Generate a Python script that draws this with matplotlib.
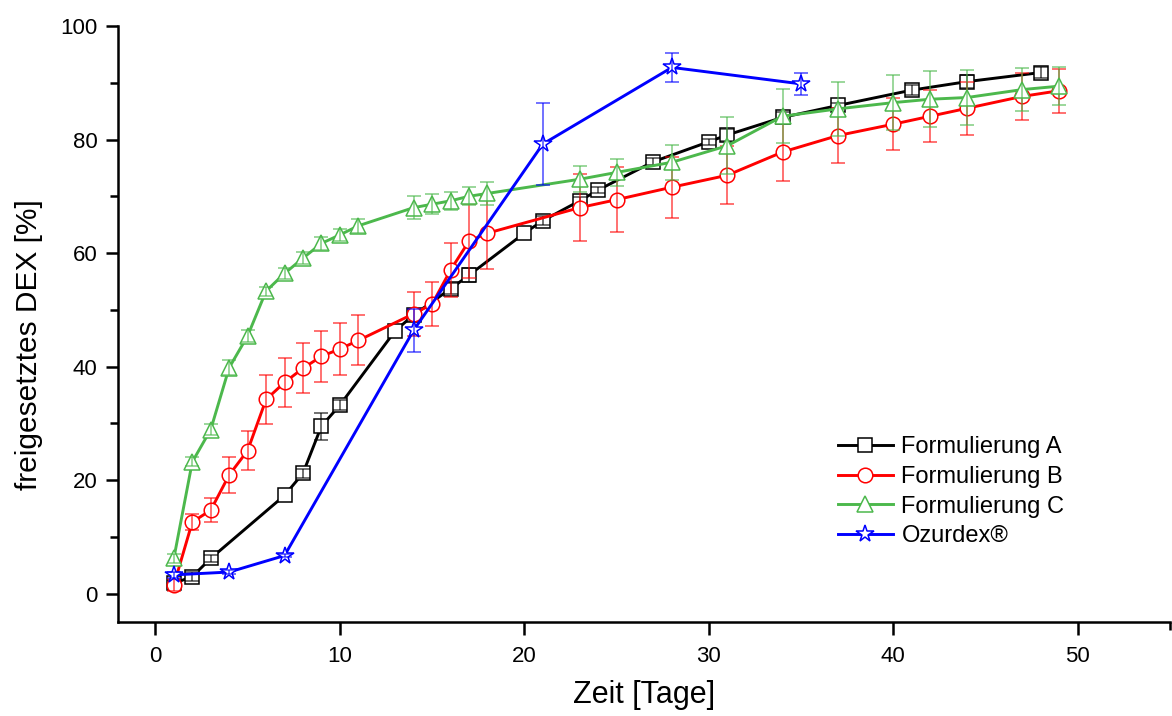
import matplotlib.pyplot as plt
from matplotlib.ticker import FixedLocator
import numpy as np

plt.rcParams['font.family'] = ['Liberation Sans', 'DejaVu Sans']

# release data, days and percent released (mean +- sd)
tage_a = [1, 2, 3, 7, 8, 9, 10, 13, 14, 16, 17, 20, 21, 23, 24, 27, 30, 31, 34, 37, 41, 44, 48]
dex_a = [1.8, 3.0, 6.2, 17.3, 21.2, 29.5, 33.2, 46.3, 49.1, 53.7, 56.1, 63.5, 65.7, 69.2,
         71.1, 76.1, 79.6, 80.8, 83.9, 86.0, 88.7, 90.2, 91.8]
err_a = [0.6, 0.8, 0.6, 0.0, 0.8, 2.4, 0.9, 0.0, 1.0, 1.0, 1.2, 0.0, 0.8, 0.7,
         0.6, 0.6, 0.5, 1.0, 0.9, 0.4, 0.9, 1.2, 0.9]

tage_bc = [1, 2, 3, 4, 5, 6, 7, 8, 9, 10, 11, 14, 15, 16, 17, 18, 23, 25, 28, 31, 34, 37, 40, 42, 44, 47, 49]
dex_b = [1.5, 12.6, 14.7, 20.9, 25.2, 34.2, 37.2, 39.7, 41.8, 43.1, 44.6, 49.3, 51.0, 57.0,
         62.1, 63.5, 68.0, 69.4, 71.6, 73.7, 77.8, 80.7, 82.7, 84.1, 85.5, 87.6, 88.6]
err_b = [1.0, 1.4, 2.1, 3.2, 3.5, 4.3, 4.3, 4.4, 4.5, 4.5, 4.4, 3.9, 3.9, 4.7,
         6.5, 6.4, 5.9, 5.7, 5.4, 5.1, 5.1, 4.9, 4.6, 4.6, 4.7, 4.2, 3.9]

dex_c = [6.2, 23.2, 28.9, 39.8, 45.4, 53.3, 56.4, 59.1, 61.7, 63.2, 64.8, 68.0, 68.6, 69.2,
         70.0, 70.5, 73.0, 74.2, 76.0, 78.9, 84.1, 85.4, 86.5, 87.1, 87.4, 88.8, 89.4]
err_c = [0.8, 0.8, 1.0, 1.3, 1.0, 0.8, 0.9, 1.0, 1.2, 1.1, 1.2, 2.0, 1.8, 1.6,
         1.6, 2.0, 2.3, 2.4, 3.1, 5.0, 4.8, 4.7, 4.8, 4.9, 4.8, 3.8, 3.3]

tage_oz = [1, 4, 7, 14, 21, 28, 35]
dex_oz = [3.3, 3.8, 6.7, 46.4, 79.2, 92.7, 89.8]
err_oz = [0.5, 0.3, 0.3, 3.8, 7.2, 2.5, 2.0]

fig = plt.figure(figsize=(11.72, 7.16), dpi=100)
ax = fig.add_axes([0.1011, 0.1313, 0.8972, 0.8324])

series = [
    ('Formulierung A', tage_a, dex_a, err_a, 'black', 's', 9.5),
    ('Formulierung B', tage_bc, dex_b, err_b, '#ff0000', 'o', 10.5),
    ('Formulierung C', tage_bc, dex_c, err_c, '#4cb84c', '^', 11),
    ('Ozurdex®', tage_oz, dex_oz, err_oz, '#0000ff', '*', 13),
]

handles = []
for i, (name, x, y, e, col, mk, ms) in enumerate(series):
    z = 2 + i
    h, = ax.plot(x, y, color=col, lw=2.1, marker=mk, ms=ms, mfc='white', mec=col,
                 mew=1.1, label=name, zorder=z)
    handles.append(h)
    # error bars go on top of the white markers
    x, y, e = np.array(x), np.array(y), np.array(e)
    m = e > 0
    ax.errorbar(x[m], y[m], yerr=e[m], fmt='none', ecolor=col, alpha=0.6,
                elinewidth=1.3, capsize=4.8, capthick=1.3, zorder=z + 0.5)

ax.set_xlim(-2, 55)
ax.set_ylim(-5, 100)
ax.set_xticks([0, 10, 20, 30, 40, 50])
ax.xaxis.set_minor_locator(FixedLocator([55]))
ax.set_yticks([0, 20, 40, 60, 80, 100])
ax.yaxis.set_minor_locator(FixedLocator([10, 30, 50, 70, 90]))

for s in ['top', 'right']:
    ax.spines[s].set_visible(False)
for s in ['left', 'bottom']:
    ax.spines[s].set_linewidth(1.8)
ax.tick_params(which='major', length=9, width=1.8, labelsize=16, pad=6)
ax.tick_params(axis='x', which='major', pad=8)
ax.tick_params(which='minor', length=5.5, width=1.8)

ax.set_xlabel('Zeit [Tage]', fontsize=22, labelpad=10)
ax.set_ylabel('freigesetztes DEX [%]', fontsize=21.5, labelpad=12.5, y=0.466)

ax.legend(handles=handles, loc='upper left', bbox_to_anchor=(0.684, 0.312),
          frameon=False, fontsize=17, borderpad=0, borderaxespad=0,
          handlelength=2.35, handletextpad=0.35, labelspacing=0.33, numpoints=1)

fig.savefig('out.png', dpi=100)
